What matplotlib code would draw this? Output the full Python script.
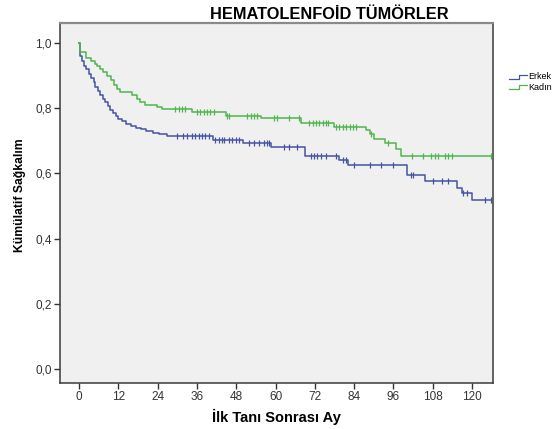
import numpy as np
import matplotlib.pyplot as plt
from matplotlib.legend_handler import HandlerBase
from matplotlib.lines import Line2D

plt.rcParams['font.family'] = ['Liberation Sans', 'DejaVu Sans']

# Kaplan-Meier step points (time in months, survival after the step)
erkek_time = [0, 0.3, 0.8, 1.5, 2.2, 3.0, 3.8, 4.5, 5.0, 5.8, 6.5, 7.2, 8.0, 8.8, 9.6,
              10.5, 11.3, 12.0, 13.2, 14.5, 16.0, 17.5, 19.0, 20.5, 22.5, 24.5, 27.0,
              41.0, 50.0, 58.5, 69.0, 79.5, 82.0, 100.0, 105.5, 115.5, 117.0, 120.0]
erkek_surv = [1.0, 0.96, 0.945, 0.93, 0.92, 0.905, 0.893, 0.88, 0.865, 0.853, 0.84, 0.828,
              0.818, 0.806, 0.795, 0.785, 0.775, 0.768, 0.76, 0.753, 0.746, 0.74, 0.735,
              0.73, 0.725, 0.72, 0.714, 0.704, 0.692, 0.68, 0.654, 0.641, 0.626, 0.595,
              0.577, 0.556, 0.54, 0.518]
erkek_censor = [30, 31.9, 33, 34.5, 35.5, 36.5, 37.5, 38.6, 39.6, 41.6, 42.7, 43.6, 44.2,
                45.7, 46.7, 47.8, 48.8, 51.9, 53.4, 55, 56.5, 57.5, 58, 62.6, 64.1, 66.7,
                70.8, 71.8, 72.8, 73.9, 75.4, 78.5, 80.5, 81.6, 84.1, 88.7, 92.3, 95.9,
                101.5, 102, 108.1, 110.7, 112.7, 117.3, 118.4, 124, 125.8]

kadin_time = [0, 0.4, 2.2, 3.8, 4.8, 5.6, 6.4, 7.3, 8.4, 9.9, 10.8, 11.5, 12.5, 16.1,
              17.6, 18.5, 20.1, 23.7, 25.3, 34.5, 45.0, 55.5, 67.7, 78.0, 87.7, 88.7,
              90.2, 93.3, 96.9, 98.4]
kadin_surv = [1.0, 0.973, 0.953, 0.945, 0.935, 0.928, 0.92, 0.91, 0.9, 0.886, 0.872, 0.86,
              0.85, 0.84, 0.828, 0.818, 0.81, 0.805, 0.797, 0.789, 0.777, 0.769, 0.756,
              0.743, 0.732, 0.72, 0.707, 0.692, 0.676, 0.655]
kadin_censor = [29.4, 30.4, 31.4, 32.4, 36, 37, 38.1, 39.1, 40.1, 41.1, 45.2, 45.7, 51.4,
                52.4, 53.4, 54.4, 59.5, 60.6, 64.1, 67.2, 70.3, 71.3, 72.3, 73.4, 74.4,
                75.4, 75.9, 78.5, 79.5, 80.5, 81.6, 82.6, 83.6, 84.6, 89.2, 94.3, 101.7,
                105.1, 107.6, 108.7, 109.7, 111.7, 112.7, 113.8, 125.8]

x_ticks = list(range(0, 121, 12))
y_ticks = [0.0, 0.2, 0.4, 0.6, 0.8, 1.0]

ERKEK_COLOR = '#4553a3'
KADIN_COLOR = '#4fb54f'


class StepHandler(HandlerBase):
    """Small step-shaped legend key, like the survival curve."""
    def create_artists(self, legend, orig_handle, xdescent, ydescent,
                       width, height, fontsize, trans):
        x0, x1 = -xdescent, -xdescent + width
        xm = x0 + 0.55 * width
        ylo, yhi = -ydescent + 0.15 * height, -ydescent + 0.75 * height
        line = Line2D([x0, xm, xm, x1], [ylo, ylo, yhi, yhi],
                      color=orig_handle.get_color(), lw=0.9, transform=trans)
        return [line]


def draw_group(ax, times, surv, censor, color, label):
    times = np.asarray(times)
    surv = np.asarray(surv)
    end = max(censor)
    xs = np.append(times, end)
    ys = np.append(surv, surv[-1])
    line, = ax.step(xs, ys, where='post', color=color, lw=1.1, label=label, zorder=3)
    idx = np.searchsorted(times, censor, side='right') - 1
    ax.plot(censor, surv[idx], linestyle='none', marker='|', ms=5, mew=0.9,
            color=color, zorder=4)
    return line


fig = plt.figure(figsize=(5.57, 4.29), dpi=100)
ax = fig.add_axes([0.1077, 0.1072, 0.7774, 0.8392])
ax.set_facecolor('#f0f0f0')

h1 = draw_group(ax, erkek_time, erkek_surv, erkek_censor, ERKEK_COLOR, 'Erkek')
h2 = draw_group(ax, kadin_time, kadin_surv, kadin_censor, KADIN_COLOR, 'Kadın')

ax.set_xlim(-5.8, 126.4)
ax.set_ylim(-0.042, 1.061)
ax.set_xticks(x_ticks)
ax.set_xticklabels([str(t) for t in x_ticks])
ax.set_yticks(y_ticks)
ax.set_yticklabels([f'{v:.1f}'.replace('.', ',') for v in y_ticks])
ax.tick_params(direction='out', length=4, width=1, color='#333333',
               labelsize=8.5, labelcolor='#333333', pad=2)

for side in ['left', 'bottom', 'right']:
    ax.spines[side].set_color('#3a3a3a')
    ax.spines[side].set_linewidth(1.1)
ax.spines['top'].set_color('#8a8a8a')
ax.spines['top'].set_linewidth(1.6)

ax.set_xlabel('İlk Tanı Sonrası Ay', fontsize=10.5, fontweight='bold', labelpad=4)
ax.set_ylabel('Kümülatif Sağkalım', fontsize=8.7, fontweight='bold')
ax.yaxis.set_label_coords(-0.079, 0.522)
fig.text(0.591, 0.967, 'HEMATOLENFOİD TÜMÖRLER', fontsize=11.8, fontweight='bold',
         ha='center', va='center')

fig.legend([h1, h2], ['Erkek', 'Kadın'], loc='upper left',
           bbox_to_anchor=(0.9, 0.85), frameon=False, fontsize=6.5,
           handlelength=2.0, handletextpad=0.1, labelspacing=0.15,
           handler_map={Line2D: StepHandler()})

fig.savefig('out.png', dpi=100)
